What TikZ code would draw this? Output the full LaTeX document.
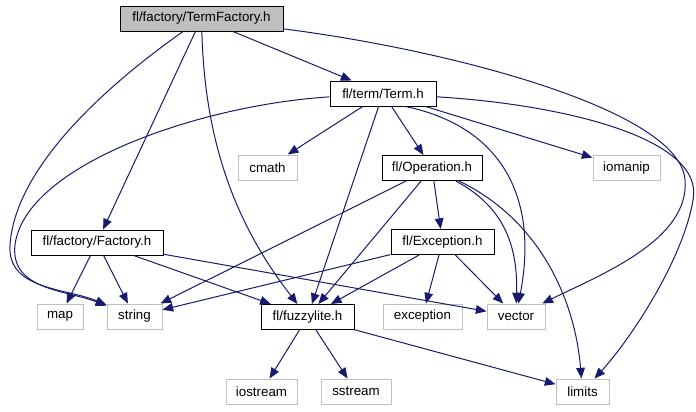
\documentclass[tikz,border=0pt]{standalone}
\usepackage{fontspec}
\setmainfont{Liberation Sans}
\usetikzlibrary{arrows.meta}
\definecolor{edgeblue}{HTML}{191970}
\definecolor{mainfill}{HTML}{BFBFBF}
\definecolor{sysgray}{HTML}{BFBFBF}
\tikzset{
  box/.style={draw=black, fill=white, line width=0.75pt, minimum height=18.75pt,
    inner sep=0pt, font=\fontsize{10}{12}\selectfont},
  mainbox/.style={box, fill=mainfill},
  sysbox/.style={box, draw=sysgray},
  dep/.style={draw=edgeblue, line width=0.75pt, -{Triangle[length=8pt,width=6.5pt]}},
}
\begin{document}
\begin{tikzpicture}[x=0.75pt,y=-0.75pt]
\useasboundingbox (0,0) rectangle (696,411);
% nodes
\node[mainbox, minimum width=122.25pt] (tf) at (201.5,18.5) {fl/factory/TermFactory.h};
\node[box, minimum width=79.5pt] (tm) at (383,93.5) {fl/term/Term.h};
\node[sysbox, minimum width=44.25pt] (cm) at (267.5,167.5) {cmath};
\node[box, minimum width=75pt] (op) at (432,168) {fl/Operation.h};
\node[sysbox, minimum width=50.25pt] (io) at (626.5,168) {iomanip};
\node[box, minimum width=77.25pt] (ex) at (442.5,242) {fl/Exception.h};
\node[box, minimum width=99pt] (fa) at (97,242.5) {fl/factory/Factory.h};
\node[sysbox, minimum width=34.5pt] (mp) at (60,316.5) {map};
\node[sysbox, minimum width=41.25pt] (st) at (134.5,316.5) {string};
\node[box, minimum width=69.75pt] (fz) at (307.5,317) {fl/fuzzylite.h};
\node[sysbox, minimum width=59.25pt] (exc) at (422.5,316.5) {exception};
\node[sysbox, minimum width=43.5pt] (vec) at (516,316.5) {vector};
\node[sysbox, minimum width=53.25pt] (ios) at (261.5,391.5) {iostream};
\node[sysbox, minimum width=52.5pt] (ss) at (356,391.5) {sstream};
\node[sysbox, minimum width=39.75pt] (lim) at (582.5,391.5) {limits};
% edges from TermFactory
\draw[dep] (tf) -- (tm);
\draw[dep] (tf) .. controls (100,90) and (15,170) .. (10,245) .. controls (7,290) and (66,288) .. (st);
\draw[dep] (tf) -- (fa);
\draw[dep] (tf) .. controls (205,150) and (240,230) .. (fz);
\draw[dep] (tf) .. controls (450,50) and (680,110) .. (685,180) .. controls (690,240) and (600,275) .. (vec);
% edges from Term
\draw[dep] (tm) .. controls (200,105) and (25,165) .. (15,245) .. controls (10,290) and (66,290) .. (st);
\draw[dep] (tm) -- (cm);
\draw[dep] (tm) -- (fz);
\draw[dep] (tm) -- (op);
\draw[dep] (tm.-30) .. controls (495,125) and (540,190) .. (vec);
\draw[dep] (tm) -- (io);
\draw[dep] (tm) .. controls (570,105) and (705,140) .. (693,200) .. controls (683,260) and (630,340) .. (lim);
% edges from Operation
\draw[dep] (op) -- (st);
\draw[dep] (op) -- (fz);
\draw[dep] (op) -- (ex);
\draw[dep] (op) .. controls (500,205) and (518,240) .. (vec);
\draw[dep] (op) .. controls (540,220) and (575,300) .. (lim);
% edges from Exception
\draw[dep] (ex) -- (st);
\draw[dep] (ex) -- (fz);
\draw[dep] (ex) -- (exc);
\draw[dep] (ex) -- (vec);
% edges from Factory
\draw[dep] (fa) -- (mp);
\draw[dep] (fa) -- (st);
\draw[dep] (fa) -- (fz);
\draw[dep] (fa) -- (vec);
% edges from fuzzylite
\draw[dep] (fz) -- (ios);
\draw[dep] (fz) -- (ss);
\draw[dep] (fz) -- (lim);
\end{tikzpicture}
\end{document}
